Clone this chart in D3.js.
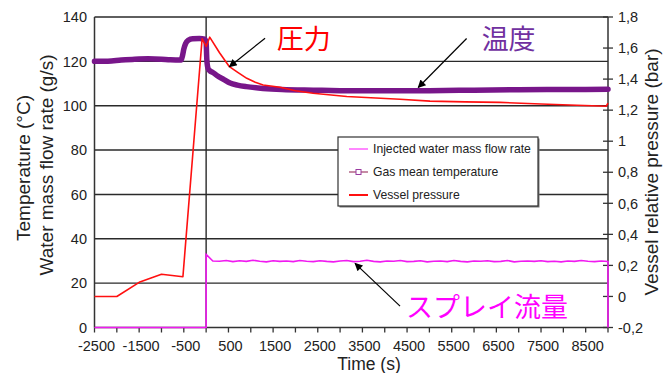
<!DOCTYPE html>
<html>
<head>
<meta charset="utf-8">
<script src="https://cdn.jsdelivr.net/npm/d3@7/dist/d3.min.js"></script>
<style>
  body { margin: 0; background: #fff; }
  svg { display: block; }
  text { font-family: "Liberation Sans", Arial, sans-serif; fill: #222; }
  .jp { font-family: "Noto Sans CJK JP", "Noto Sans CJK SC", sans-serif; }
</style>
</head>
<body>
<svg id="chart" width="665" height="373"></svg>
<script>
// ---- Data -------------------------------------------------------------
// Time axis (s)
const xTickValues = d3.range(-2500, 9001, 500);
const xTickLabels = ["-2500", "-1500", "-500", "500", "1500", "2500", "3500", "4500", "5500", "6500", "7500", "8500"];
const xLabelValues = [-2500, -1500, -500, 500, 1500, 2500, 3500, 4500, 5500, 6500, 7500, 8500];

// Left axis: temperature (°C) / water mass flow rate (g/s)
const leftTicks = [0, 20, 40, 60, 80, 100, 120, 140];

// Right axis: vessel relative pressure (bar)
const rightTicks = [-0.2, 0, 0.2, 0.4, 0.6, 0.8, 1.0, 1.2, 1.4, 1.6, 1.8];
const rightTickLabels = ["-0,2", "0", "0,2", "0,4", "0,6", "0,8", "1", "1,2", "1,4", "1,6", "1,8"];

// Gas mean temperature (°C)
const tempTime  = [-2500, -2200, -1900, -1600, -1300, -1000, -800, -560, -530, -500, -460, -400, -300, -150, -30,
                   0, 15, 40, 80, 150, 250, 400, 537, 700, 900, 1276, 1700, 2400, 3000, 4000, 5000, 6000, 7000, 8000, 9000];
const tempValue = [120.0, 120.1, 120.6, 121.0, 121.2, 121.0, 120.7, 120.6, 122.5, 125.5, 128.0, 129.5, 130.2, 130.3, 130.0,
                   128.5, 121.0, 117.0, 115.8, 115.0, 113.5, 111.8, 110.2, 109.3, 108.6, 107.8, 107.3, 107.0, 106.8, 106.7, 106.8, 107.0, 107.2, 107.3, 107.4];

// Vessel relative pressure (bar)
const pressureTime  = [-2500, -2000, -1500, -1000, -520, -90, 0, 80, 300, 521, 700, 911, 1100, 1276, 1656, 2000, 2395,
                       3149, 3800, 4342, 5013, 5800, 6580, 7500, 8300, 8818, 8960, 9000];
const pressureValue = [0.0, 0.0, 0.091, 0.143, 0.127, 1.66, 1.61, 1.67, 1.57, 1.48, 1.445, 1.405, 1.38, 1.362, 1.347, 1.325, 1.309,
                       1.288, 1.278, 1.27, 1.258, 1.253, 1.25, 1.24, 1.232, 1.227, 1.225, 1.245];

// Injected water mass flow rate (g/s), sampled every 150 s after injection starts
const sprayTime = d3.range(0, 9001, 150);
const sprayRate = [33.0, 30.0, 29.9, 30.2, 29.7, 30.1, 29.8, 30.3, 29.9, 29.6,
                   30.1, 29.8, 30.0, 29.7, 30.2, 29.9, 29.7, 30.1, 29.8, 29.6,
                   30.0, 30.2, 29.7, 29.9, 30.3, 29.8, 29.6, 30.0, 29.9, 30.2,
                   29.7, 29.8, 30.1, 29.6, 29.9, 30.0, 29.7, 30.2, 29.8, 29.6,
                   30.0, 29.9, 30.1, 29.7, 29.8, 30.2, 29.6, 29.9, 30.0, 29.8,
                   30.1, 29.7, 29.9, 29.6, 30.0, 29.8, 30.2, 29.9, 29.7, 30.0,
                   29.8];

const legendLabels = ["Injected water mass flow rate", "Gas mean temperature", "Vessel pressure"];

// ---- Layout -----------------------------------------------------------
const svg = d3.select("#chart");
const plot = { left: 94.5, right: 608, top: 17, bottom: 327.5 };

const x  = d3.scaleLinear().domain([-2500, 9000]).range([plot.left, plot.right]);
const yL = d3.scaleLinear().domain([0, 140]).range([plot.bottom, plot.top]);
const yR = d3.scaleLinear().domain([-0.2, 1.8]).range([plot.bottom, plot.top]);

const colors = {
  spray: "#f01af0",
  temp: "#78168a",
  pressure: "#ff1010",
  grid: "#2a2a2a",
  axis: "#333"
};

// Horizontal grid lines on the left-axis ticks
svg.append("g").selectAll("line").data(leftTicks.filter(d => d > 0)).join("line")
  .attr("x1", plot.left).attr("x2", plot.right)
  .attr("y1", d => yL(d)).attr("y2", d => yL(d))
  .attr("stroke", colors.grid).attr("stroke-width", 1.4);

// Vertical reference at t = 0
svg.append("line")
  .attr("x1", x(0)).attr("x2", x(0)).attr("y1", plot.top).attr("y2", plot.bottom)
  .attr("stroke", colors.grid).attr("stroke-width", 1.4);

// Axis frame lines
svg.append("line").attr("x1", plot.left).attr("x2", plot.left).attr("y1", plot.top).attr("y2", plot.bottom)
  .attr("stroke", colors.axis).attr("stroke-width", 1.5);
svg.append("line").attr("x1", plot.right).attr("x2", plot.right).attr("y1", plot.top).attr("y2", plot.bottom)
  .attr("stroke", colors.axis).attr("stroke-width", 1.5);
svg.append("line").attr("x1", plot.left).attr("x2", plot.right).attr("y1", plot.bottom).attr("y2", plot.bottom)
  .attr("stroke", colors.axis).attr("stroke-width", 1.5);

// Bottom axis ticks and labels
svg.append("g").selectAll("line").data(xTickValues).join("line")
  .attr("x1", d => x(d)).attr("x2", d => x(d))
  .attr("y1", plot.bottom).attr("y2", plot.bottom + 5)
  .attr("stroke", colors.axis).attr("stroke-width", 1.3);
svg.append("g").selectAll("text").data(xLabelValues).join("text")
  .attr("x", d => x(d) + 2).attr("y", 351)
  .attr("text-anchor", "middle").attr("font-size", "14.5px")
  .text((d, i) => xTickLabels[i]);

// Left axis labels
svg.append("g").selectAll("text").data(leftTicks).join("text")
  .attr("x", 87).attr("y", d => yL(d)).attr("dy", "0.36em")
  .attr("text-anchor", "end").attr("font-size", "14.5px")
  .text(d => d);

// Right axis ticks (crossing the axis) and labels
svg.append("g").selectAll("line").data(rightTicks).join("line")
  .attr("x1", plot.right - 5).attr("x2", plot.right + 5)
  .attr("y1", d => yR(d)).attr("y2", d => yR(d))
  .attr("stroke", colors.axis).attr("stroke-width", 1.3);
svg.append("g").selectAll("text").data(rightTicks).join("text")
  .attr("x", 618).attr("y", d => yR(d)).attr("dy", "0.36em")
  .attr("text-anchor", "start").attr("font-size", "14.5px")
  .text((d, i) => rightTickLabels[i]);

// Axis titles
svg.append("text").attr("x", 369).attr("y", 370).attr("text-anchor", "middle")
  .attr("font-size", "17.5px").text("Time (s)");
svg.append("text").attr("transform", "translate(29.5,168) rotate(-90)").attr("text-anchor", "middle")
  .attr("font-size", "19px").text("Temperature (°C)");
svg.append("text").attr("transform", "translate(52.5,165) rotate(-90)").attr("text-anchor", "middle")
  .attr("font-size", "19px").text("Water mass flow rate (g/s)");
svg.append("text").attr("transform", "translate(658,172) rotate(-90)").attr("text-anchor", "middle")
  .attr("font-size", "19px").text("Vessel relative pressure (bar)");

// ---- Series -----------------------------------------------------------
const sprayPoints = [[-2500, 0], [0, 0]]
  .concat(sprayTime.map((t, i) => [t, sprayRate[i]]))
  .concat([[9000, 0]]);
svg.append("path")
  .attr("d", d3.line().x(d => x(d[0])).y(d => yL(d[1]))(sprayPoints))
  .attr("fill", "none").attr("stroke", colors.spray).attr("stroke-width", 1.6);

svg.append("path")
  .attr("d", d3.line().curve(d3.curveMonotoneX).x((t) => x(t)).y((t, i) => yL(tempValue[i]))(tempTime))
  .attr("fill", "none").attr("stroke", colors.temp).attr("stroke-width", 5.5)
  .attr("stroke-linejoin", "round").attr("stroke-linecap", "round");

svg.append("path")
  .attr("d", d3.line().x((t) => x(t)).y((t, i) => yR(pressureValue[i]))(pressureTime))
  .attr("fill", "none").attr("stroke", colors.pressure).attr("stroke-width", 1.6)
  .attr("stroke-linejoin", "round");

// ---- Legend -----------------------------------------------------------
const legend = svg.append("g").attr("transform", "translate(338,137)");
legend.append("rect").attr("x", 1.5).attr("y", 1.5).attr("width", 200).attr("height", 69).attr("fill", "#777");
legend.append("rect").attr("width", 200).attr("height", 69)
  .attr("fill", "#fff").attr("stroke", "#333").attr("stroke-width", 1.2);
const rowY = [12, 35, 58];
legend.append("line").attr("x1", 11).attr("x2", 30).attr("y1", rowY[0]).attr("y2", rowY[0])
  .attr("stroke", "#ff88ff").attr("stroke-width", 2);
legend.append("line").attr("x1", 11).attr("x2", 30).attr("y1", rowY[1]).attr("y2", rowY[1])
  .attr("stroke", "#a0406a").attr("stroke-width", 1.2);
legend.append("rect").attr("x", 18).attr("y", rowY[1] - 2.5).attr("width", 5).attr("height", 5)
  .attr("fill", "#fff").attr("stroke", "#9a3aa0").attr("stroke-width", 1);
legend.append("line").attr("x1", 11).attr("x2", 30).attr("y1", rowY[2]).attr("y2", rowY[2])
  .attr("stroke", colors.pressure).attr("stroke-width", 2);
legend.selectAll("text.lbl").data(legendLabels).join("text").attr("class", "lbl")
  .attr("x", 35).attr("y", (d, i) => rowY[i]).attr("dy", "0.35em")
  .attr("font-size", "12.2px").text(d => d);

// ---- Annotations ------------------------------------------------------
svg.append("defs").append("marker")
  .attr("id", "arrowhead").attr("viewBox", "0 0 10 10").attr("refX", 9).attr("refY", 5)
  .attr("markerWidth", 11).attr("markerHeight", 8).attr("markerUnits", "userSpaceOnUse")
  .attr("orient", "auto")
  .append("path").attr("d", "M0,0 L10,5 L0,10 Z").attr("fill", "#000");

const notes = [
  { text: "圧力", color: "#ff0000", tip: [x(521), yR(1.48)], tail: [35.7, -28.4], label: [47.4, -17.7] },
  { text: "温度", color: "#7030a0", tip: [x(4750), yL(108.2)], tail: [48.4, -49], label: [63.4, -38.3] },
  { text: "スプレイ流量", color: "#ff00ff", tip: [x(3335), yL(28.9)], tail: [45, 42.7], label: [51, 53.7] }
];
notes.forEach(n => {
  svg.append("line")
    .attr("x1", n.tip[0] + n.tail[0]).attr("y1", n.tip[1] + n.tail[1])
    .attr("x2", n.tip[0]).attr("y2", n.tip[1])
    .attr("stroke", "#000").attr("stroke-width", 1.2).attr("marker-end", "url(#arrowhead)");
  svg.append("text").attr("class", "jp")
    .attr("x", n.tip[0] + n.label[0]).attr("y", n.tip[1] + n.label[1])
    .attr("font-size", "27px").style("fill", n.color).text(n.text);
});
</script>
</body>
</html>
